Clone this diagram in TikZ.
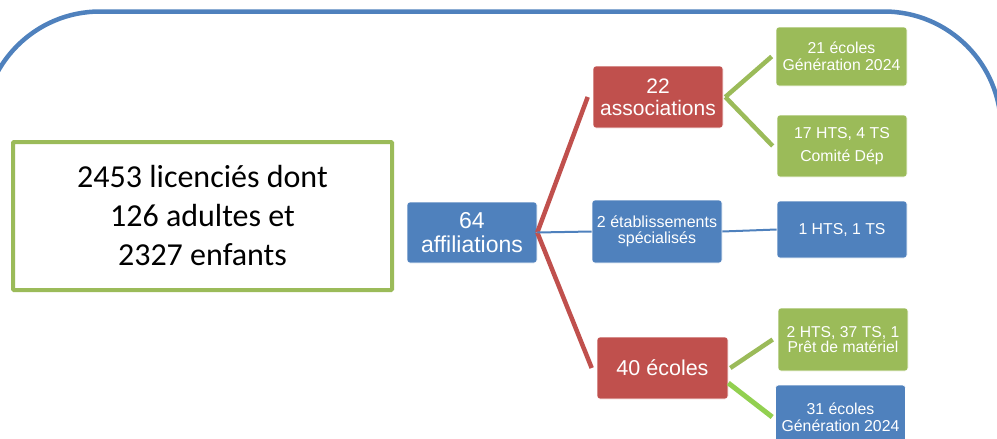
\documentclass[tikz,border=0pt]{standalone}
\usepackage{fontspec}
\setmainfont{Liberation Sans}
\newfontfamily\carlito{Carlito}
\usepackage{xcolor}
\usetikzlibrary{positioning,calc}
\definecolor{accblue}{HTML}{4F81BD}
\definecolor{accred}{HTML}{C0504D}
\definecolor{accgreen}{HTML}{9BBB59}
\definecolor{lightgreen}{HTML}{92D050}

\begin{document}
\begin{tikzpicture}[x=1pt, y=-1pt, link/.style = {line width=4.5pt}, thinlink/.style = {accblue, line width=2pt}]
		\tikzset{box/.style={draw=white, line width=0.6pt, rounded corners=3pt, inner sep=0pt, align=center, text=white, minimum width=130pt, minimum height=62pt}}

		\useasboundingbox (0,0) rectangle (997,439);
		\clip (0,0) rectangle (997,439);

		% Frame
		\draw[accblue, line width=4.5pt, rounded corners=117pt] (-17,600) -- (-17,11.5) -- (1001,11.5) -- (1001,600);

		% Total
		\node[draw=accgreen, line width=4pt, rounded corners=1pt, minimum width=379pt, minimum height=148pt, align=center, font=\carlito\fontsize{32}{39}\selectfont] (total) at (202.5,216) {2453 licenciés dont\\ 126 adultes et\\ 2327 enfants};

		% Affiliations
		\node[box, fill=accblue, minimum height=61pt, font=\fontsize{23}{24.5}\selectfont] (affil) at (472,232.5) {64\\affiliations};

		% Types
		\node[box, fill=accred, font=\fontsize{21}{22}\selectfont] (assoc) at (658,97) {22\\associations};

		\node[box, fill=accblue, minimum height=63pt, font=\fontsize{16}{16}\selectfont] (etab) at (657,231.5) {2 établissements\\spécialisés};

		\node[box, fill=accred, minimum width=131pt, font=\fontsize{21.5}{24}\selectfont] (ecoles40) at (662.5,368) {40 écoles};

		% Details
		\node[box, fill=accgreen, minimum width=131pt, minimum height=59pt, font=\fontsize{15.8}{17}\selectfont] (gen21) at (841.5,56.5) {21 écoles\\Génération 2024};

		\node[box, fill=accgreen, font=\fontsize{15.8}{23}\selectfont] (comite) at (842,146) {17 HTS, 4 TS\\Comité Dép};

		\node[box, fill=accblue, minimum height=57pt, font=\fontsize{15.8}{17}\selectfont] (hts1) at (842,229.5) {1 HTS, 1 TS};

		\node[box, fill=accgreen, minimum height=63pt, font=\fontsize{15.7}{15.5}\selectfont] (pret) at (843,339.5) {2 HTS, 37 TS, 1\\Prêt de matériel};

		\node[box, fill=accblue, minimum height=64pt, font=\fontsize{15.8}{17}\selectfont] (gen31) at (840.5,417) {31 écoles\\Génération 2024};

		% Links
		\draw [link, accred] (affil.east) -- ([xshift=-5pt]assoc.west);
		\draw [link, accred] (affil.east) -- ([xshift=-5pt]ecoles40.west);
		\draw [thinlink] (affil.east) -- (etab.west);
		\draw [thinlink] (etab.east) -- (hts1.west);

		\draw [link, accgreen] ([xshift=2pt]assoc.east) -- ([xshift=-4pt]gen21.west);
		\draw [link, accgreen] ([xshift=2pt]assoc.east) -- ([xshift=-4pt]comite.west);
		\draw [link, accgreen] ([xshift=2pt]ecoles40.east) -- ([xshift=-5pt]pret.west);
		\draw [link, lightgreen, line width=5pt] ([yshift=-15pt]ecoles40.east) -- ([xshift=-3pt]gen31.west);

	\end{tikzpicture}
\end{document}
